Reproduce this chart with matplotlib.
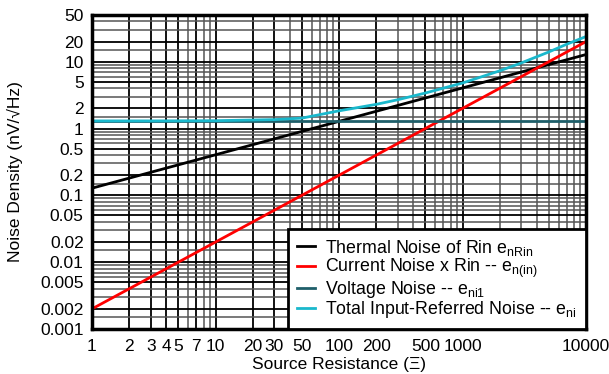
import matplotlib
matplotlib.use("Agg")
import matplotlib.pyplot as plt
from matplotlib.ticker import NullFormatter, LogLocator

plt.rcParams['font.family'] = ['Liberation Sans', 'DejaVu Sans']

# Data
r_line = [1, 10000]
thermal = [0.128, 12.8]
current = [0.002, 20.0]
voltage = [1.3, 1.3]
r_total = [1, 3, 10, 30, 50, 100, 200, 300, 500, 1000, 2000, 3000, 5000, 7000, 10000]
total = [1.30, 1.30, 1.31, 1.36, 1.43, 1.84, 2.3, 2.7, 3.4, 4.8, 7.3, 9.6, 14.0, 18.3, 23.8]

xticks = [1, 2, 3, 4, 5, 7, 10, 20, 30, 50, 100, 200, 500, 1000, 10000]
xticklabels = ['1', '2', '3', '4', '5', '7', '10', '20', '30', '50', '100', '200', '500', '1000', '10000']
yticks = [0.001, 0.002, 0.005, 0.01, 0.02, 0.05, 0.1, 0.2, 0.5, 1, 2, 5, 10, 20, 50]
yticklabels = ['0.001', '0.002', '0.005', '0.01', '0.02', '0.05', '0.1', '0.2', '0.5', '1', '2', '5', '10', '20', '50']

fig = plt.figure(figsize=(6.09, 3.74), dpi=100)
ax = fig.add_axes([92/609, 1 - 329/374, (586 - 92)/609, (329 - 15)/374])
ax.set_xscale('log')
ax.set_yscale('log')
ax.set_xlim(1, 10000)
ax.set_ylim(0.001, 50)

# grid
ax.xaxis.set_minor_locator(LogLocator(base=10, subs=[2, 3, 4, 5, 6, 7, 8, 9]))
ax.yaxis.set_minor_locator(LogLocator(base=10, subs=[1.5, 2, 3, 4, 5, 6, 7, 8, 9]))
ax.xaxis.set_minor_formatter(NullFormatter())
ax.yaxis.set_minor_formatter(NullFormatter())
ax.grid(True, which='minor', color='#555555', lw=1.1)
ax.grid(True, which='major', color='black', lw=1.3)
ax.set_xticks(xticks)
ax.set_xticklabels(xticklabels)
ax.set_yticks(yticks)
ax.set_yticklabels(yticklabels)
ax.tick_params(which='both', length=0, labelsize=12.5)
ax.tick_params(axis='y', pad=6)
ax.tick_params(axis='x', pad=7)

ax.plot(r_line, thermal, color='black', lw=2, label='Thermal Noise of Rin e$_{\\mathregular{nRin}}$')
ax.plot(r_line, current, color='#ff0000', lw=2, label='Current Noise x Rin -- e$_{\\mathregular{n(in)}}$')
ax.plot(r_line, voltage, color='#1f5f6a', lw=2, label='Voltage Noise -- e$_{\\mathregular{ni1}}$')
ax.plot(r_total, total, color='#1ab8cc', lw=2, label='Total Input-Referred Noise -- e$_{\\mathregular{ni}}$')

for s in ax.spines.values():
    s.set_linewidth(2.5)
    s.set_color('black')

leg = ax.legend(loc='lower right', bbox_to_anchor=(1.0, 0.0), fontsize=12.8,
                handlelength=1.0, handletextpad=0.6, labelspacing=-0.05,
                borderpad=0.5, fancybox=False, framealpha=1, edgecolor='black',
                borderaxespad=0)
leg.get_frame().set_linewidth(2)

ax.set_xlabel('Source Resistance (\u039e)', fontsize=12.5, labelpad=2)
ax.set_ylabel('Noise Density (nV/\u221aHz)', fontsize=12.5, labelpad=12)

fig.savefig('out.png', dpi=100)
